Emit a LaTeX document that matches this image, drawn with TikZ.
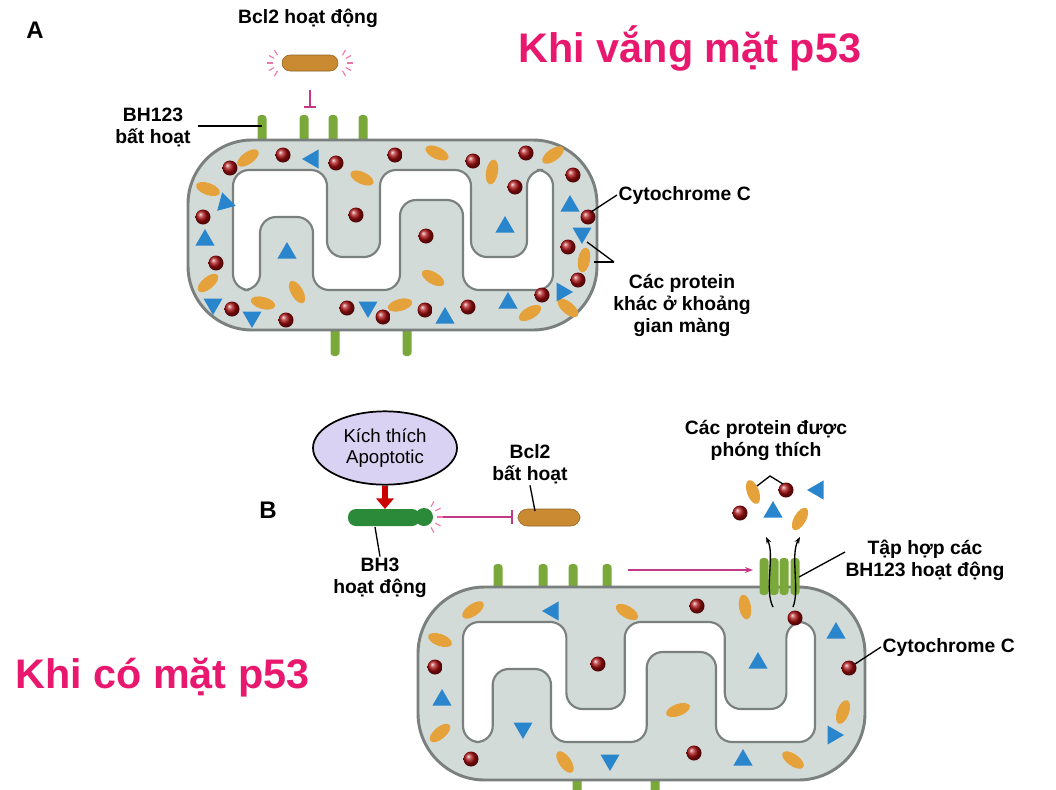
\documentclass[tikz,border=0pt]{standalone}
\usepackage{fontspec}
\setmainfont{Liberation Sans}
\usetikzlibrary{calc,arrows.meta,shapes.geometric}
\definecolor{mfill}{HTML}{D3DBD9}
\definecolor{mline}{HTML}{7A807E}
\definecolor{redD}{HTML}{A80E10}
\definecolor{orE}{HTML}{E6A23A}
\definecolor{blT}{HTML}{2A86CC}
\definecolor{grS}{HTML}{7BA83A}
\definecolor{magT}{HTML}{E8186F}
\definecolor{inhib}{HTML}{C23A86}
\definecolor{lav}{HTML}{D9D2F2}
\definecolor{bcl}{HTML}{C98A32}
\definecolor{bh3}{HTML}{2A8A3A}
\newcommand\rdot[2]{\shade[ball color=redD] (#1,#2) circle[radius=7.5];}
\newcommand\oell[3]{\fill[orE, rotate around={#3:(#1,#2)}] (#1,#2) ellipse [x radius=12.5, y radius=6];}
\newcommand\btri[3]{\fill[blT] ($(#1,#2)+(#3:11)$) -- ($(#1,#2)+(#3+120:11)$) -- ($(#1,#2)+(#3+240:11)$) -- cycle;}
\newcommand\stalk[3]{\fill[grS, rounded corners=2.5pt] (#1-4.5,#2) rectangle (#1+4.5,#3);}
\newcommand\innerpath{(0,0) -- (94,0) -- (94,87) -- (147,87) -- (147,0) -- (238,0) -- (238,87) -- (294,87) -- (294,0) -- (320,0) -- (320,120) -- (230,120) -- (230,30) -- (167,30) -- (167,120) -- (80,120) -- (80,47) -- (27,47) -- (27,120) -- (0,120) -- cycle}
\tikzset{lbl/.style={font=\bfseries\fontsize{14.5}{16.5}\selectfont, align=center, inner sep=1pt},
 ttl/.style={font=\bfseries\fontsize{31}{35}\selectfont, text=magT, inner sep=0pt},
 memb/.style={draw=mline, line width=2.2pt},
 lead/.style={draw=black, line width=1pt}}
\begin{document}
\begin{tikzpicture}[x=0.75pt,y=-0.75pt]
\clip (0,0) rectangle (1056,789);
\fill[white] (0,0) rectangle (1056,789);
% ---------- A ----------
\node[font=\bfseries\fontsize{18}{20}\selectfont] (A) at (35,30) {A};
\node[ttl] (t1) at (690,48) {Khi vắng mặt p53};
\stalk{262}{115}{152}\stalk{304}{115}{152}\stalk{333}{115}{152}\stalk{363}{115}{152}
\stalk{335}{318}{356}\stalk{407}{318}{356}
\draw[memb, fill=mfill, rounded corners=48pt] (188,140) rectangle (597,330);
\begin{scope}[shift={(233,170)}]
\draw[draw=mline, line width=1.6pt, fill=white, rounded corners=12pt] \innerpath;
\end{scope}
\foreach \x/\y in {230/168,283/155,336/163,395/155,473/161,526/153,515/187,573/175,588/217,568/247,578/280,542/295,468/307,425/310,383/317,347/308,286/320,232/309,216/263,203/217,356/215,426/236} {\rdot{\x}{\y}}
\foreach \x/\y/\a in {248/158/35,208/189/-20,362/178/-25,437/153/-25,492/172/80,553/155/35,584/260/80,568/308/-40,530/313/30,433/278/-30,400/305/15,297/292/-60,263/303/-15,208/283/40} {\oell{\x}{\y}{\a}}
\foreach \x/\y/\a in {313/159/180,225/203/135,205/240/-90,287/253/-90,505/227/-90,570/206/-90,582/233/90,562/292/0,508/303/-90,445/318/-90,368/307/90,252/317/90,213/304/90} {\btri{\x}{\y}{\a}}
% Bcl2 active
\node[lbl] (bcl2a) at (308,18) {Bcl2 hoạt động};
\fill[bcl, draw=bcl!70!black, rounded corners=6pt] (282,55) rectangle (338,71);
\foreach \a in {120,150,180,210,240} {\draw[magT!60, line width=0.8pt] ($(282,63)+(\a:9)$) -- ($(282,63)+(\a:15)$); \draw[magT!60, line width=0.8pt] ($(338,63)+(180-\a:9)$) -- ($(338,63)+(180-\a:15)$);}
\coordinate (bcl2abot) at (310,90);
\coordinate (bcl2atee) at (310,107);
\draw[inhib, line width=1.2pt] (bcl2abot) -- (bcl2atee);
\draw[inhib, line width=1.2pt] (304,107) -- (316,107);
\node[lbl] (bh123a) at (153,127) {BH123\\bất hoạt};
\coordinate (s1) at (262,126);
\draw[lead] (198,126) -- (s1);
\node[lbl, anchor=west] (cytA) at (617,195) {Cytochrome C};
\coordinate (cdA) at (591,212);
\draw[lead] (cytA.west) -- (cdA);
\node[lbl] (otherA) at (682,305) {Các protein\\khác ở khoảng\\gian màng};
\coordinate (otA) at (614,262);
\draw[lead] (otA) -- (587,242);
\draw[lead] (otA) -- (594,262);
% ---------- B ----------
\node[font=\bfseries\fontsize{18}{20}\selectfont] (B) at (268,510) {B};
\node[ttl, anchor=west] (t2) at (15,678) {Khi có mặt p53};
\node[ellipse, draw=black, line width=1.3pt, fill=lav, minimum width=108pt, minimum height=55pt, font=\fontsize{14}{16}\selectfont, align=center, inner sep=0pt] (kich) at (385,448) {Kích thích\\Apoptotic};
\coordinate (bh3top) at (385,509);
\draw[-{Triangle[length=8pt,width=13pt]}, line width=5pt, draw=red!80!black, fill=red!80!black] (kich.south) -- (bh3top);
\fill[bh3, rounded corners=6pt] (348,509) rectangle (420,526);
\fill[bh3] (424,517) circle[radius=9];
\foreach \a in {-60,-30,0,30,60} {\draw[magT!60, line width=0.8pt] ($(425,517)+(\a:12)$) -- ($(425,517)+(\a:18)$);}
\node[lbl] (bh3lbl) at (380,578) {BH3\\hoạt động};
\draw[lead] (375,527) -- (bh3lbl.north);
\node[lbl] (bcl2i) at (530,464) {Bcl2\\bất hoạt};
\fill[bcl, draw=bcl!70!black, rounded corners=7pt] (518,509) rectangle (580,526);
\draw[lead] (bcl2i.south) -- (535,511);
\coordinate (inhS) at (443,517);
\coordinate (inhE) at (512,517);
\draw[inhib, line width=1.2pt] (inhS) -- (inhE);
\draw[inhib, line width=1.2pt] (512,510) -- (512,524);
% bottom mitochondrion
\stalk{498}{564}{601}\stalk{543}{564}{601}\stalk{573}{564}{601}\stalk{607}{564}{601}
\stalk{577}{768}{800}\stalk{655}{768}{800}
\draw[memb, fill=mfill, rounded corners=50pt] (418,587) rectangle (865,780);
\begin{scope}[shift={(463,622)}, xscale=1.1]
\draw[draw=mline, line width=1.6pt, fill=white, rounded corners=12pt] \innerpath;
\end{scope}
\foreach \x in {764,774,784,795} {\stalk{\x}{558}{595}}
\foreach \x/\y in {697/606,795/618,849/668,598/664,435/667,471/759,694/753} {\rdot{\x}{\y}}
\foreach \x/\y/\a in {473/610/35,627/612/-30,745/607/-80,440/640/-20,678/710/20,440/733/40,565/762/-55,793/760/-35,843/712/70} {\oell{\x}{\y}{\a}}
\foreach \x/\y/\a in {553/611/180,836/633/-90,758/663/-90,442/700/-90,523/728/90,610/760/90,743/760/-90,833/735/0} {\btri{\x}{\y}{\a}}
\coordinate (arS) at (628,570);
\coordinate (arE) at (753,570);
\draw[inhib, line width=1.2pt, -{Stealth[length=6pt]}] (arS) -- (arE);
% released
\rdot{786}{490}\rdot{740}{513}
\oell{753}{492}{-70}\oell{800}{519}{60}
\btri{818}{490}{180}\btri{773}{512}{-90}
\node[lbl] (rel) at (766,440) {Các protein được\\phóng thích};
\coordinate (apex) at (770,476);
\draw[lead] (757,486) -- (apex) -- (783,484);
\draw[-{Stealth[length=5pt]}, line width=1pt] (773,607) .. controls (764,590) and (775,555) .. (766,537);
\draw[-{Stealth[length=5pt]}, line width=1pt] (793,607) .. controls (800,590) and (790,555) .. (800,537);
\node[lbl] (tap) at (925,560) {Tập hợp các\\BH123 hoạt động};
\draw[lead] (799,577) -- (845,552);
\node[lbl, anchor=west] (cytB) at (881,647) {Cytochrome C};
\draw[lead] (cytB.west) -- (855,664);
\end{tikzpicture}
\end{document}
